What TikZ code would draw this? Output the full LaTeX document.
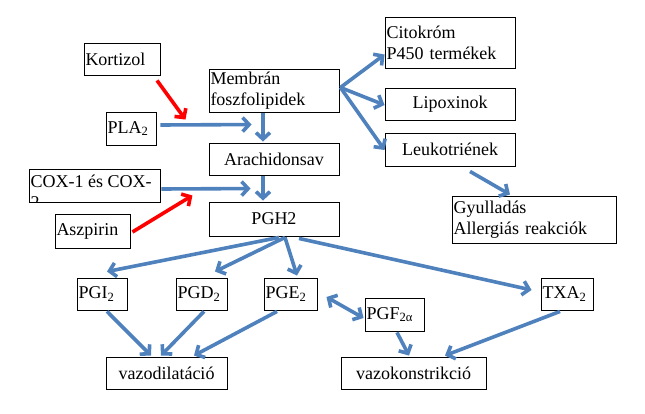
\documentclass[tikz,border=0pt]{standalone}
\usepackage{fontspec}
\setmainfont{Liberation Serif}
\newfontfamily\tnr{Liberation Serif}
\usetikzlibrary{arrows.meta}
\definecolor{arrowblue}{HTML}{4F81BD}
\definecolor{arrowred}{HTML}{FF0000}
\begin{document}
\begin{tikzpicture}[x=1pt,y=-1pt,
  box/.style={draw, line width=0.9pt, inner xsep=1.5pt, inner ysep=0pt,
    font=\tnr\fontsize{18}{21}\selectfont},
  lbox/.style={box, align=left},
  cbox/.style={box, align=center},
  sz/.style n args={3}{minimum width=#1pt, minimum height=#2pt, text width=#3pt},
  barrow/.style={draw=arrowblue, line width=3.6pt,
    -{Straight Barb[length=6.5pt,width=14pt]}},
  darrow/.style={barrow, {Straight Barb[length=6.5pt,width=14pt]}-{Straight Barb[length=6.5pt,width=14pt]}},
  rarrow/.style={barrow, draw=arrowred},
  txt/.style={inner sep=0pt, font=\tnr\fontsize{18}{21}\selectfont},
]
\useasboundingbox (0,0) rectangle (645,414);

% boxes
\node[lbox, sz={76}{32}{73}]   (kort)  at (122,59)    {Kortizol};
\node[lbox, sz={130}{43}{127}] (memb)  at (274,90.5)  {Membrán\\foszfolipidek};
\node[lbox, sz={50}{33}{47}]   (pla)   at (131,128.5) {PLA\textsubscript{2}};
\node[cbox, sz={130}{32}{127}] (arach) at (274,159)   {Arachidonsav};
\node[box, minimum width=131pt, minimum height=33pt] (cox) at (94.5,185.5) {};
\node[txt, anchor=base west] (coxa) at (30.5,188) {COX-1 és COX-};
\begin{scope}
  \clip (29,169) rectangle (160,202);
  \node[txt, anchor=base west] (coxb) at (30.5,209) {2};
\end{scope}
\node[lbox, sz={75}{34}{72}]   (asp)   at (92.5,231)  {Aszpirin};
\node[cbox, sz={130}{34}{127}] (pgh)   at (274,219)   {PGH2};
\node[lbox, sz={130}{51}{127}] (cito)  at (450,42.5)  {Citokróm\\P450 termékek};
\node[cbox, sz={130}{32}{127}] (lipo)  at (450,104)   {Lipoxinok};
\node[cbox, sz={130}{33}{127}] (leuk)  at (450,149.5) {Leukotriének};
\node[lbox, sz={164}{47}{161}] (gyul)  at (534,219.5) {Gyulladás\\Allergiás reakciók};
\node[lbox, sz={50}{32}{47}]   (pgi)   at (102,294)   {PGI\textsubscript{2}};
\node[lbox, sz={51}{32}{48}]   (pgd)   at (201.5,294) {PGD\textsubscript{2}};
\node[lbox, sz={53}{32}{50}]   (pge)   at (290.5,294) {PGE\textsubscript{2}};
\node[lbox, sz={59}{33}{56}]   (pgf)   at (394.5,314.5) {PGF\textsubscript{2α}};
\node[lbox, sz={52}{32}{49}]   (txa)   at (567,294)   {TXA\textsubscript{2}};
\node[cbox, sz={121}{32}{118}] (vdil)  at (166.5,373) {vazodilatáció};
\node[cbox, sz={145}{32}{142}] (vkon)  at (413.5,373) {vazokonstrikció};

% connectors
\draw[rarrow] ([shift={(35,5)}]kort.south) -- ([shift={(29,8)}]pla.north east);
\draw[barrow] ([shift={(4,-3.5)}]pla.east) -- ([shift={(43,-18)}]arach.north west);
\draw[barrow] ([shift={(-11,1)}]memb.south) -- ([shift={(-11,-1)}]arach.north);
\draw[barrow] ([shift={(1,3.5)}]cox.east) -- ([shift={(42,-13)}]pgh.north west);
\draw[rarrow] ([shift={(2,1)}]asp.east) -- ([shift={(32,-7)}]cox.south east);
\draw[barrow] ([shift={(-11,1)}]arach.south) -- ([shift={(-11,-1)}]pgh.north);

\coordinate (mfork) at ([shift={(1,-3)}]memb.east);
\draw[barrow] (mfork) -- ([shift={(0,12)}]cito.west);
\draw[barrow] (mfork) -- ([shift={(0,1)}]lipo.west);
\draw[barrow] (mfork) -- ([shift={(0,0.5)}]leuk.west);
\draw[barrow] ([shift={(20,5)}]leuk.south) -- ([shift={(-24,-1)}]gyul.north);

\draw[barrow] ([shift={(5,1)}]pgh.south) -- ([shift={(5,-6)}]pgi.north);
\draw[barrow] ([shift={(11,1)}]pgh.south) -- ([shift={(13.5,-6)}]pgd.north);
\draw[barrow] ([shift={(11,1)}]pgh.south) -- ([shift={(6.5,-2)}]pge.north);
\draw[barrow] ([shift={(25,2)}]pgh.south) -- ([shift={(-9,-4)}]txa.west);

\draw[barrow] ([shift={(5,1)}]pgi.south) -- ([shift={(-15.5,-1)}]vdil.north);
\draw[barrow] ([shift={(2.5,1)}]pgd.south) -- ([shift={(-5.5,-1)}]vdil.north);
\draw[barrow] ([shift={(-13.5,1)}]pge.south) -- ([shift={(27.5,-1)}]vdil.north);
\draw[darrow] ([shift={(9,3)}]pge.east) -- ([shift={(-1,3.5)}]pgf.west);
\draw[barrow] ([shift={(2.5,1)}]pgf.south) -- ([shift={(-4.5,-1)}]vkon.north);
\draw[barrow] ([shift={(-7,1)}]txa.south) -- ([shift={(31.5,-1)}]vkon.north);
\end{tikzpicture}
\end{document}
